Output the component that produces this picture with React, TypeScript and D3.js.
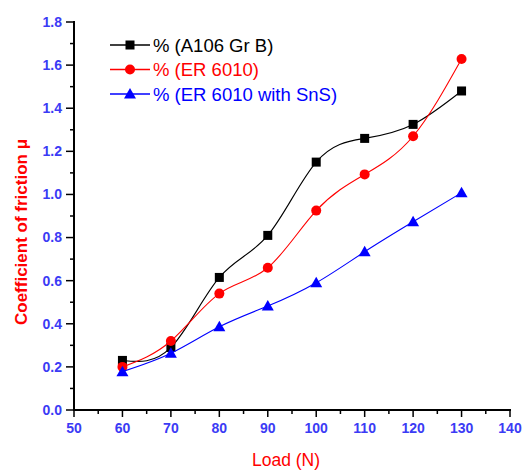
import React from 'react';
import * as d3 from 'd3';

const loads = [60, 70, 80, 90, 100, 110, 120, 130];
const a106 = [0.23, 0.29, 0.615, 0.81, 1.15, 1.26, 1.325, 1.48];
const er6010 = [0.2, 0.32, 0.54, 0.66, 0.925, 1.093, 1.27, 1.628];
const er6010Sns = [0.178, 0.263, 0.386, 0.482, 0.59, 0.734, 0.873, 1.008];
const seriesNames = ['% (A106 Gr B)', '% (ER 6010)', '% (ER 6010 with SnS)'];
const seriesColors = ['#000000', '#ff0000', '#0000ff'];
const xTicks = [50, 60, 70, 80, 90, 100, 110, 120, 130, 140];
const yTicks = [0, 0.2, 0.4, 0.6, 0.8, 1.0, 1.2, 1.4, 1.6, 1.8];

const W = 529;
const H = 472;
const font = 'Arial, "Liberation Sans", sans-serif';
const tickBlue = '#3b3bf5';

const Marker = ({ kind, x, y, color }: { kind: number; x: number; y: number; color: string }) => {
  if (kind === 0) return <rect x={x - 4.5} y={y - 4.5} width={9} height={9} fill={color} />;
  if (kind === 1) return <circle cx={x} cy={y} r={5} fill={color} />;
  return <path d={`M${x},${y - 6}L${x + 6},${y + 4.5}L${x - 6},${y + 4.5}Z`} fill={color} />;
};

export default function App() {
  const x = d3.scaleLinear().domain([50, 140]).range([74, 510]);
  const y = d3.scaleLinear().domain([0, 1.8]).range([410, 22]);
  const all = [a106, er6010, er6010Sns];
  const line = d3
    .line<number>()
    .x((_, i) => x(loads[i]))
    .y((d) => y(d))
    .curve(d3.curveNatural);

  const xMinor = d3.range(55, 140, 10);
  const yMinor = d3.range(0.1, 1.8, 0.2);

  return (
    <svg width={W} height={H} style={{ position: 'absolute', left: 0, top: 0, background: '#fff' }}>
      {/* series */}
      {all.map((s, k) => (
        <g key={k}>
          <path d={line(s) || ''} fill="none" stroke={seriesColors[k]} strokeWidth={1.1} />
          {s.map((v, i) => (
            <Marker key={i} kind={k} x={x(loads[i])} y={y(v)} color={seriesColors[k]} />
          ))}
        </g>
      ))}

      {/* axes */}
      <line x1={74} x2={74} y1={y(1.8) - 1} y2={411} stroke="#000" strokeWidth={2} />
      <line x1={73} x2={x(140) + 1} y1={410} y2={410} stroke="#000" strokeWidth={2} />
      {yTicks.map((t) => (
        <g key={t}>
          <line x1={66} x2={74} y1={y(t)} y2={y(t)} stroke="#000" strokeWidth={1.5} />
          <text
            x={62}
            y={y(t)}
            dy="0.35em"
            textAnchor="end"
            fontFamily={font}
            fontWeight="bold"
            fontSize={14}
            fill={tickBlue}
          >
            {t.toFixed(1)}
          </text>
        </g>
      ))}
      {yMinor.map((t) => (
        <line key={t} x1={70} x2={74} y1={y(t)} y2={y(t)} stroke="#000" strokeWidth={1.5} />
      ))}
      {xTicks.map((t) => (
        <g key={t}>
          <line x1={x(t)} x2={x(t)} y1={410} y2={417} stroke="#000" strokeWidth={1.5} />
          <text
            x={x(t)}
            y={433}
            textAnchor="middle"
            fontFamily={font}
            fontWeight="bold"
            fontSize={14}
            fill={tickBlue}
          >
            {t}
          </text>
        </g>
      ))}
      {xMinor.map((t) => (
        <line key={t} x1={x(t)} x2={x(t)} y1={410} y2={414} stroke="#000" strokeWidth={1.5} />
      ))}

      {/* axis titles */}
      <text
        transform="translate(27,232) rotate(-90)"
        textAnchor="middle"
        fontFamily={font}
        fontWeight="bold"
        fontSize={17}
        fill="#ff0000"
      >
        Coefficient of friction μ
      </text>
      <text x={286} y={466} textAnchor="middle" fontFamily={font} fontSize={17.5} fill="#ff0000">
        Load (N)
      </text>

      {/* legend */}
      {seriesNames.map((name, k) => {
        const ly = 45 + k * 24.5;
        return (
          <g key={name}>
            <line x1={110} x2={150} y1={ly} y2={ly} stroke={seriesColors[k]} strokeWidth={1.3} />
            <Marker kind={k} x={130} y={ly} color={seriesColors[k]} />
            <text x={153} y={ly} dy="0.36em" fontFamily={font} fontSize={18.5} fill={seriesColors[k]}>
              {name}
            </text>
          </g>
        );
      })}
    </svg>
  );
}
